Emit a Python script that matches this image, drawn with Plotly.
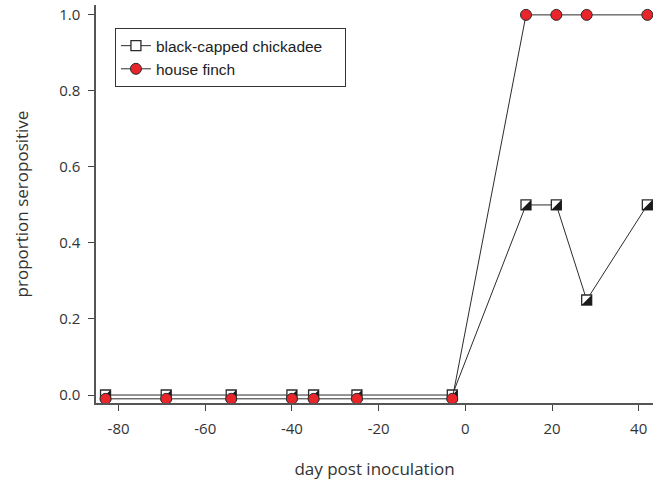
import numpy as np
import plotly.graph_objects as go

# data
days = [-83, -69, -54, -40, -35, -25, -3, 14, 21, 28, 42]
chickadee = [0, 0, 0, 0, 0, 0, 0, 0.5, 0.5, 0.25, 0.5]
finch = [-0.01, -0.01, -0.01, -0.01, -0.01, -0.01, -0.01, 1.0, 1.0, 1.0, 1.0]
x_ticks = [-80, -60, -40, -20, 0, 20, 40]
y_ticks = [0.0, 0.2, 0.4, 0.6, 0.8, 1.0]
series_names = ["black-capped chickadee", "house finch"]

W, H = 653, 480
ML, MR, MT, MB = 96, 0, 5, 77
xr = [-85.2, 43.3]
yr = [-0.021, 1.026]
pw, ph = W - ML - MR, H - MT - MB
px_x = pw / (xr[1] - xr[0])
px_y = ph / (yr[1] - yr[0])

sq = 10  # square marker size
R = sq / 2
tri_size = 2 * R / 1.8 * 2
shift = R / 3.0
pad = "\u00a0" * 4

fig = go.Figure()
fig.add_trace(go.Scatter(
    x=days, y=chickadee, mode="lines+markers", name=series_names[0] + pad,
    line=dict(color="#2b2b2b", width=1), cliponaxis=False,
    marker=dict(symbol="square", size=sq, color="white",
                line=dict(color="#2b2b2b", width=1.3)),
))
fig.add_trace(go.Scatter(
    x=np.array(days) + shift / px_x, y=np.array(chickadee) - shift / px_y,
    mode="markers", showlegend=False, hoverinfo="skip", cliponaxis=False,
    marker=dict(symbol="triangle-se", size=tri_size, color="#1a1a1a",
                line=dict(width=0)),
))
fig.add_trace(go.Scatter(
    x=days, y=finch, mode="lines+markers", name=series_names[1],
    line=dict(color="#2b2b2b", width=1), cliponaxis=False,
    marker=dict(symbol="circle", size=11, color="#e8252b",
                line=dict(color="#2b2b2b", width=1)),
))

fig.update_layout(
    width=W, height=H,
    margin=dict(l=ML, r=MR, t=MT, b=MB, autoexpand=False),
    paper_bgcolor="white", plot_bgcolor="white",
    font=dict(family="Open Sans", color="#333333"),
    showlegend=True,
    legend=dict(
        x=0.034, y=0.942, xanchor="left", yanchor="top",
        bordercolor="#333333", borderwidth=1, bgcolor="white",
        font=dict(family="Liberation Sans, Arial", size=15.5, color="#222222"),
        tracegroupgap=0, itemwidth=30,
    ),
    xaxis=dict(
        range=xr, tickvals=x_ticks, ticktext=[str(v) for v in x_ticks],
        automargin=False,
        showgrid=False, zeroline=False, showline=True, linecolor="#555555", linewidth=1.5,
        ticks="outside", ticklen=6, tickwidth=1.2, tickcolor="#444444",
        tickfont=dict(size=15, color="#333333"), ticklabelstandoff=5,
        title=dict(text="day post inoculation", font=dict(size=17, color="#333333"), standoff=26),
    ),
    yaxis=dict(
        range=yr, tickvals=y_ticks, ticktext=[f"{v:.1f}" for v in y_ticks],
        automargin=False,
        showgrid=False, zeroline=False, showline=True, linecolor="#555555", linewidth=1.5,
        ticks="outside", ticklen=6, tickwidth=1.2, tickcolor="#444444",
        tickfont=dict(size=15, color="#333333"), ticklabelstandoff=5,
        title=dict(text="proportion seropositive", font=dict(size=17, color="#333333"), standoff=26),
    ),
)

fig.write_html("out.html", config={"displayModeBar": False},
               post_script="document.body.style.margin='0';")
